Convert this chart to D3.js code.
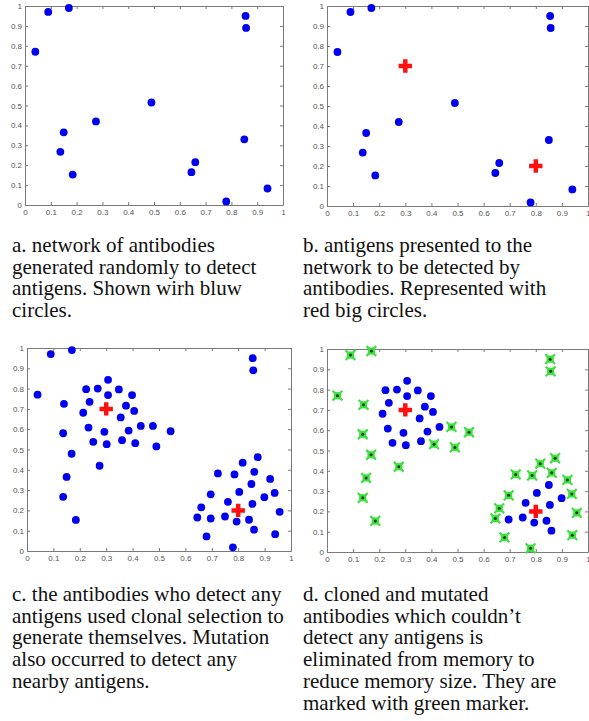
<!DOCTYPE html>
<html>
<head>
<meta charset="utf-8">
<script src="https://cdn.jsdelivr.net/npm/d3@7"></script>
<style>
  body { margin: 0; background: #fff; }
  svg { display: block; }
</style>
</head>
<body>
<div id="chart"></div>
<script>
// tick values and their labels (same on both axes)
var tickValues = [0, 0.1, 0.2, 0.3, 0.4, 0.5, 0.6, 0.7, 0.8, 0.9, 1];
var tickLabels = ["0", "0.1", "0.2", "0.3", "0.4", "0.5", "0.6", "0.7", "0.8", "0.9", "1"];

// randomly generated antibodies (blue)
var abX = [0.04, 0.09, 0.17, 0.855, 0.857, 0.49, 0.275, 0.15, 0.137, 0.185, 0.85, 0.66, 0.645, 0.78, 0.94];
var abY = [0.77, 0.97, 0.99, 0.95, 0.89, 0.515, 0.42, 0.365, 0.267, 0.153, 0.33, 0.215, 0.165, 0.018, 0.083];
// 1 = still detects an antigen in panel d, 0 = eliminated (green)
var abKept = [0, 0, 0, 0, 0, 0, 0, 0, 0, 0, 1, 0, 0, 0, 0];

// antigens (red)
var agX = [0.3, 0.8];
var agY = [0.7, 0.2];

// cloned + mutated antibodies
var cloneX = [0.14, 0.137, 0.169, 0.224, 0.268, 0.307, 0.348, 0.398, 0.237, 0.307, 0.375, 0.213,
              0.406, 0.355, 0.233, 0.293, 0.385, 0.431, 0.477, 0.544, 0.251, 0.302, 0.36, 0.41,
              0.874, 0.817, 0.723, 0.786, 0.861, 0.921, 0.696, 0.804, 0.938, 0.899, 0.761, 0.854,
              0.957, 0.696, 0.75, 0.794, 0.841, 0.86, 0.68];
var cloneY = [0.725, 0.58, 0.479, 0.797, 0.8, 0.843, 0.796, 0.768, 0.735, 0.768, 0.716, 0.681,
              0.69, 0.658, 0.608, 0.587, 0.593, 0.616, 0.616, 0.59, 0.538, 0.526, 0.546, 0.531,
              0.462, 0.435, 0.382, 0.377, 0.39, 0.355, 0.279, 0.291, 0.286, 0.265, 0.242, 0.232,
              0.193, 0.16, 0.17, 0.145, 0.154, 0.105, 0.072];
var cloneKept = [0, 0, 0, 1, 1, 1, 1, 1, 1, 1, 1, 1, 1, 1, 1, 1, 1, 1, 0, 0, 1, 1, 1, 0,
                 0, 0, 0, 0, 0, 0, 0, 1, 0, 1, 1, 1, 0, 1, 1, 1, 1, 1, 0];

var captionA = ["a. network of antibodies", "generated randomly to detect", "antigens. Shown wirh bluw", "circles."];
var captionB = ["b. antigens presented to the", "network to be detected by", "antibodies. Represented with", "red big circles."];
var captionC = ["c. the antibodies who detect any", "antigens used clonal selection to", "generate themselves. Mutation", "also occurred to detect any", "nearby antigens."];
var captionD = ["d. cloned and mutated", "antibodies which couldn\u2019t", "detect any antigens is", "eliminated from memory to", "reduce memory size. They are", "marked with green marker."];

var svg = d3.select("#chart").append("svg")
	.attr("width", 589)
	.attr("height", 721);

var zip = function(xs, ys, flags) {
	return xs.map(function(x, i) { return {x: x, y: ys[i], kept: flags ? flags[i] : 1}; });
};
var antibodies = zip(abX, abY, abKept);
var antigens = zip(agX, agY);
var clones = zip(cloneX, cloneY, cloneKept);

// pixel box of each panel
var panels = [
	{x0: 25, x1: 283, y0: 205, y1: 6, caption: captionA, cx: 12, cy: 252},
	{x0: 327, x1: 588, y0: 206, y1: 6, caption: captionB, cx: 303, cy: 252},
	{x0: 27, x1: 291, y0: 551, y1: 348, caption: captionC, cx: 12, cy: 601},
	{x0: 327, x1: 588, y0: 552, y1: 349, caption: captionD, cx: 303, cy: 601}
];

var blue = "#0000ee", red = "#ff1010", green = "#3ee03e";
var plus = d3.symbol(d3.symbolCross, 100);

function drawAxes(g, x, y) {
	var fmt = function(d, i) { return tickLabels[i]; };
	var none = function() { return ""; };
	g.append("g").attr("transform", "translate(0," + y.range()[0] + ")")
		.call(d3.axisBottom(x).tickValues(tickValues).tickFormat(fmt).tickSizeInner(-3).tickSizeOuter(0).tickPadding(4));
	g.append("g").attr("transform", "translate(0," + y.range()[1] + ")")
		.call(d3.axisTop(x).tickValues(tickValues).tickFormat(none).tickSizeInner(-3).tickSizeOuter(0));
	g.append("g").attr("transform", "translate(" + x.range()[0] + ",0)")
		.call(d3.axisLeft(y).tickValues(tickValues).tickFormat(fmt).tickSizeInner(-3).tickSizeOuter(0).tickPadding(3));
	g.append("g").attr("transform", "translate(" + x.range()[1] + ",0)")
		.call(d3.axisRight(y).tickValues(tickValues).tickFormat(none).tickSizeInner(-3).tickSizeOuter(0));
	g.selectAll(".domain, .tick line").attr("stroke", "#7a7a7a");
	g.selectAll(".tick text")
		.attr("font-family", "'Liberation Sans', Arial, sans-serif")
		.attr("font-size", 8)
		.attr("fill", "#555");
}

function drawDots(g, data, x, y) {
	g.append("g").selectAll("circle")
		.data(data)
		.enter()
		.append("circle")
		.attr("cx", function(d) { return x(d.x); })
		.attr("cy", function(d) { return y(d.y); })
		.attr("r", 3.9)
		.style("fill", blue);
}

function drawGreen(g, data, x, y) {
	var m = g.append("g").selectAll("g")
		.data(data)
		.enter()
		.append("g")
		.attr("transform", function(d) { return "translate(" + x(d.x) + "," + y(d.y) + ")"; });
	m.append("path").attr("d", d3.symbol(d3.symbolSquare, 52)()).style("fill", green);
	m.append("path").attr("d", d3.symbol(d3.symbolX, 64)())
		.style("fill", "none").style("stroke", green).style("stroke-width", 2.2);
	m.append("circle").attr("r", 1.5).style("fill", "#1b3b1b");
}

function drawAntigens(g, x, y) {
	g.append("g").selectAll("path")
		.data(antigens)
		.enter()
		.append("path")
		.attr("transform", function(d) { return "translate(" + x(d.x) + "," + y(d.y) + ")"; })
		.attr("d", plus)
		.style("fill", red);
}

panels.forEach(function(p, i) {
	var g = svg.append("g");
	var x = d3.scaleLinear().domain([0, 1]).range([p.x0, p.x1]);
	var y = d3.scaleLinear().domain([0, 1]).range([p.y0, p.y1]);
	drawAxes(g, x, y);

	if (i < 2) {
		drawDots(g, antibodies, x, y);
	} else if (i === 2) {
		drawDots(g, antibodies.concat(clones), x, y);
	} else {
		var all = antibodies.concat(clones);
		drawDots(g, all.filter(function(d) { return d.kept; }), x, y);
		drawGreen(g, all.filter(function(d) { return !d.kept; }), x, y);
	}
	if (i > 0) drawAntigens(g, x, y);

	g.append("g").selectAll("text")
		.data(p.caption)
		.enter()
		.append("text")
		.attr("x", p.cx)
		.attr("y", function(d, j) { return p.cy + j * 21.7; })
		.attr("font-family", "'Liberation Serif', 'Times New Roman', 'DejaVu Serif', serif")
		.attr("font-size", 21)
		.attr("fill", "#111")
		.text(function(d) { return d; });
});
</script>
</body>
</html>
